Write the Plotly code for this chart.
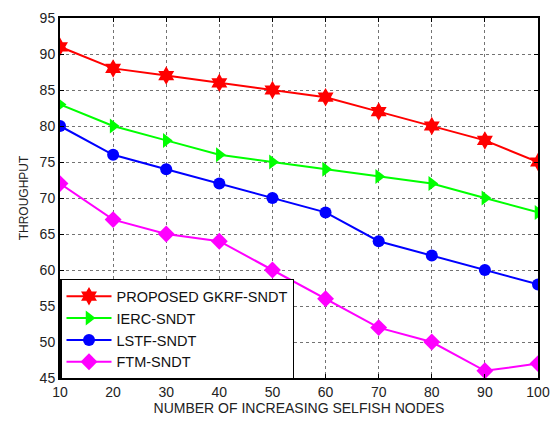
import plotly.graph_objects as go

nodes = [10, 20, 30, 40, 50, 60, 70, 80, 90, 100]
gkrf = [91, 88, 87, 86, 85, 84, 82, 80, 78, 75]
ierc = [83, 80, 78, 76, 75, 74, 73, 72, 70, 68]
lstf = [80, 76, 74, 72, 70, 68, 64, 62, 60, 58]
ftm = [72, 67, 65, 64, 60, 56, 52, 50, 46, 47]

names = ["PROPOSED GKRF-SNDT", "IERC-SNDT", "LSTF-SNDT", "FTM-SNDT"]
series = [gkrf, ierc, lstf, ftm]
colors = ["#ff0000", "#00ff00", "#0000ff", "#ff00ff"]
symbols = ["hexagram", "triangle-right", "circle", "diamond"]
sizes = [14, 13, 12, 13]

fig = go.Figure()
for n, s, c, sym, sz in zip(names, series, colors, symbols, sizes):
    fig.add_trace(go.Scatter(x=nodes, y=s, name=n, mode="lines+markers",
                             line=dict(color=c, width=2),
                             marker=dict(symbol=sym, size=sz, color=c, line=dict(width=0))))

font = "Liberation Sans, Arial"
axis_common = dict(showgrid=True, gridcolor="rgba(0,0,0,0.55)", griddash="dot", gridwidth=1,
                   showline=True, linecolor="black", linewidth=2, mirror="ticks",
                   ticks="inside", ticklen=4, tickcolor="black", zeroline=False,
                   tickfont=dict(family=font, size=14, color="#222"))

fig.update_xaxes(range=[10, 100], tickvals=nodes, title=dict(text="NUMBER OF INCREASING SELFISH NODES",
                 font=dict(family=font, size=14, color="#222"), standoff=2), **axis_common)
fig.update_yaxes(range=[45, 95], dtick=5, title=dict(text="THROUGHPUT",
                 font=dict(family=font, size=12, color="#222"), standoff=8), **axis_common)

fig.update_layout(width=560, height=423, plot_bgcolor="white", paper_bgcolor="white",
                  margin=dict(l=60, r=17, t=10, b=45),
                  legend=dict(x=0, y=-0.005, xanchor="left", yanchor="bottom", bgcolor="white",
                              bordercolor="black", borderwidth=1.5, itemwidth=45, tracegroupgap=0,
                              font=dict(family=font, size=14.5, color="#111")),
                  showlegend=True)

fig.write_html("out.html")
